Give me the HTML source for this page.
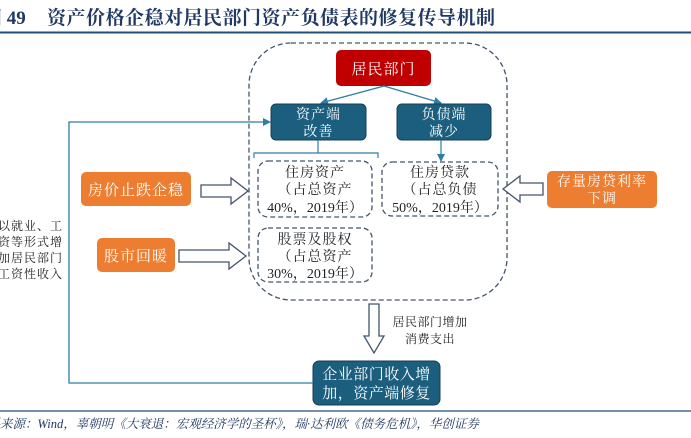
<!DOCTYPE html>
<html><head><meta charset="utf-8"><style>
html,body{margin:0;padding:0;background:#fff;}
svg{display:block;}
text{font-family:"Liberation Serif","Noto Serif CJK SC","Noto Sans CJK SC",serif;}
</style></head><body>
<svg width="691" height="438" viewBox="0 0 691 438" xmlns="http://www.w3.org/2000/svg">
<defs>
<marker id="ah" markerWidth="8" markerHeight="8" refX="7" refY="4" orient="auto" markerUnits="userSpaceOnUse"><path d="M0,0 L8,4 L0,8 z" fill="#2e7ea6"/></marker>
</defs>
<text x="-17" y="24" font-size="19" font-weight="bold" fill="#1f3864">图 49</text>
<text x="47" y="24" font-size="19" font-weight="bold" fill="#1f3864" letter-spacing="0.5">资产价格企稳对居民部门资产负债表的修复传导机制</text>
<line x1="0" y1="32.5" x2="691" y2="32.5" stroke="#1f4e79" stroke-width="2"/>

<rect x="249" y="43" width="258" height="257" rx="42" fill="none" stroke="#44546a" stroke-width="1.3" stroke-dasharray="5,3"/>

<rect x="336" y="50" width="95" height="36" rx="5" fill="#c00000"/>
<text x="383.5" y="74" font-size="15" fill="#fff" text-anchor="middle" letter-spacing="1">居民部门</text>

<line x1="384" y1="86" x2="321" y2="103" stroke="#2e7ea6" stroke-width="1.3" marker-end="url(#ah)"/>
<line x1="384" y1="86" x2="441" y2="103" stroke="#2e7ea6" stroke-width="1.3" marker-end="url(#ah)"/>

<rect x="271" y="104" width="95" height="36" rx="5" fill="#1b5e7e" stroke="#143f55"/>
<text x="318.5" y="119" font-size="14" fill="#fff" text-anchor="middle" letter-spacing="1">资产端</text>
<text x="318.5" y="136" font-size="14" fill="#fff" text-anchor="middle" letter-spacing="1">改善</text>
<rect x="397" y="104" width="94" height="36" rx="5" fill="#1b5e7e" stroke="#143f55"/>
<text x="444" y="119" font-size="14" fill="#fff" text-anchor="middle" letter-spacing="1">负债端</text>
<text x="444" y="136" font-size="14" fill="#fff" text-anchor="middle" letter-spacing="1">减少</text>

<line x1="318" y1="140" x2="318" y2="153" stroke="#2e7ea6" stroke-width="1.2"/>
<path d="M254,158 L254,153 L378,153 L378,158" fill="none" stroke="#2e7ea6" stroke-width="1.2"/>
<line x1="441" y1="140" x2="441" y2="161" stroke="#2e7ea6" stroke-width="1.2" marker-end="url(#ah)"/>

<g fill="none" stroke="#44546a" stroke-width="1.3" stroke-dasharray="5,3">
<rect x="258" y="161" width="114" height="56" rx="10"/>
<rect x="382" y="162" width="116" height="54" rx="10"/>
<rect x="258" y="228" width="114" height="54" rx="10"/>
</g>
<g font-size="14" fill="#222" text-anchor="middle">
<text x="315" y="177" letter-spacing="1">住房资产</text>
<text x="315" y="194" letter-spacing="1">（占总资产</text>
<text x="315" y="212">40%，2019年）</text>
<text x="440" y="177" letter-spacing="1">住房贷款</text>
<text x="440" y="194" letter-spacing="1">（占总负债</text>
<text x="440" y="212">50%，2019年）</text>
<text x="315" y="244" letter-spacing="1">股票及股权</text>
<text x="315" y="261" letter-spacing="1">（占总资产</text>
<text x="315" y="278">30%，2019年）</text>
</g>

<rect x="81" y="172" width="110" height="34" rx="5" fill="#ed7d31"/>
<text x="136" y="195" font-size="15" fill="#fff" text-anchor="middle" letter-spacing="1">房价止跌企稳</text>
<rect x="97" y="238" width="78" height="34" rx="5" fill="#ed7d31"/>
<text x="136" y="261" font-size="15" fill="#fff" text-anchor="middle" letter-spacing="1">股市回暖</text>
<rect x="547" y="171" width="110" height="37" rx="5" fill="#ed7d31"/>
<text x="602" y="186" font-size="14" fill="#fff" text-anchor="middle" letter-spacing="1">存量房贷利率</text>
<text x="602" y="203" font-size="14" fill="#fff" text-anchor="middle" letter-spacing="1">下调</text>

<g fill="#fff" stroke="#44546a" stroke-width="1.3">
<path d="M201,185 L231,185 L231,178 L248,191 L231,204 L231,197 L201,197 z"/>
<path d="M179,250 L229,250 L229,243 L246,256 L229,269 L229,262 L179,262 z"/>
<path d="M543,183 L520,183 L520,176 L503,189 L520,202 L520,195 L543,195 z"/>
<path d="M369,304 L379,304 L379,336 L384,336 L374,353 L364,336 L369,336 z"/>
</g>

<text x="430" y="326" font-size="12" fill="#222" text-anchor="middle" letter-spacing="0.5">居民部门增加</text>
<text x="430" y="343" font-size="12" fill="#222" text-anchor="middle" letter-spacing="0.5">消费支出</text>

<rect x="313" y="361" width="127" height="44" rx="6" fill="#1b5e7e" stroke="#143f55"/>
<text x="376.5" y="379" font-size="15" fill="#fff" text-anchor="middle" letter-spacing="0.5">企业部门收入增</text>
<text x="376.5" y="398" font-size="15" fill="#fff" text-anchor="middle" letter-spacing="0.5">加，资产端修复</text>

<path d="M313,383 L69,383 L69,122 L270,122" fill="none" stroke="#2e7ea6" stroke-width="1.3" marker-end="url(#ah)"/>

<g font-size="12" fill="#222" letter-spacing="1">
<text x="-2" y="230">以就业、工</text>
<text x="-2" y="246">资等形式增</text>
<text x="-2" y="262">加居民部门</text>
<text x="-2" y="278">工资性收入</text>
</g>

<line x1="0" y1="411" x2="691" y2="411" stroke="#1f4e79" stroke-width="1.3"/>
<text x="-25" y="428" font-size="12.5" font-style="italic" fill="#1f3864">资料来源：Wind，辜朝明《大衰退：宏观经济学的圣杯》，瑞·达利欧《债务危机》，华创证券</text>
</svg>
</body></html>
